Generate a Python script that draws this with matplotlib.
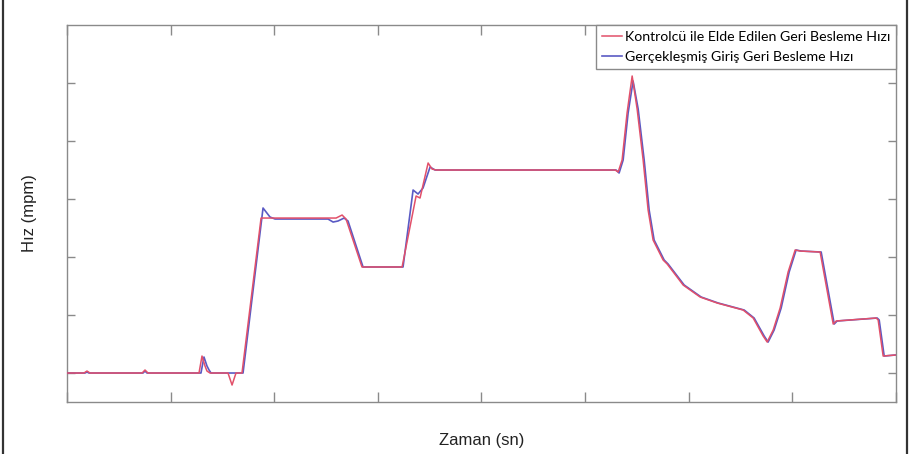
#!/usr/bin/env python3
"""Feed speed: controller output vs. realised input feedback."""

import matplotlib.pyplot as plt
from matplotlib.lines import Line2D

# ------------------------------------------------------------------
# Data (arbitrary units, labels hidden)
# ------------------------------------------------------------------
LABEL_CTRL = "Kontrolcü ile Elde Edilen Geri Besleme Hızı"
LABEL_REAL = "Gerçekleşmiş Giriş Geri Besleme Hızı"

t_ctrl = [0.000, 0.164, 0.193, 0.222, 0.725, 0.753, 0.782, 1.274, 1.303,
          1.332, 1.351, 1.380, 1.554, 1.593, 1.631, 1.689, 1.873, 2.539,
          2.597, 2.655, 2.693, 2.847, 3.234, 3.369, 3.407, 3.485, 3.523,
          3.562, 5.290, 5.319, 5.357, 5.405, 5.454, 5.502, 5.560, 5.608,
          5.656, 5.753, 5.792, 5.946, 6.110, 6.274, 6.525, 6.622, 6.718,
          6.757, 6.815, 6.882, 6.959, 7.027, 7.075, 7.268, 7.394, 7.423,
          7.809, 7.828, 7.876, 7.992]
v_ctrl = [0.000, 0.000, 0.034, 0.000, 0.000, 0.052, 0.000, 0.000, 0.293,
          0.121, 0.034, 0.000, 0.000, -0.207, 0.000, 0.000, 2.672, 2.672,
          2.672, 2.724, 2.655, 1.828, 1.828, 3.052, 3.017, 3.621, 3.517,
          3.500, 3.500, 3.466, 3.672, 4.483, 5.121, 4.552, 3.672, 2.810,
          2.293, 1.948, 1.879, 1.517, 1.310, 1.207, 1.086, 0.948, 0.638,
          0.534, 0.741, 1.121, 1.741, 2.121, 2.103, 2.086, 0.845, 0.897,
          0.948, 0.914, 0.293, 0.310]

t_real = [0.000, 0.174, 0.193, 0.212, 0.734, 0.753, 0.772, 1.293, 1.322,
          1.351, 1.371, 1.390, 1.699, 1.892, 1.959, 2.008, 2.519, 2.568,
          2.616, 2.674, 2.712, 2.857, 3.243, 3.340, 3.388, 3.436, 3.504,
          3.552, 5.299, 5.328, 5.367, 5.415, 5.463, 5.512, 5.570, 5.618,
          5.666, 5.763, 5.801, 5.956, 6.120, 6.284, 6.535, 6.631, 6.728,
          6.766, 6.824, 6.892, 6.969, 7.036, 7.085, 7.278, 7.404, 7.432,
          7.819, 7.838, 7.886, 7.992]
v_real = [0.000, 0.000, 0.017, 0.000, 0.000, 0.034, 0.000, 0.000, 0.276,
          0.121, 0.052, 0.000, 0.000, 2.845, 2.690, 2.655, 2.655, 2.603,
          2.621, 2.672, 2.621, 1.828, 1.828, 3.155, 3.086, 3.190, 3.552,
          3.500, 3.500, 3.448, 3.672, 4.483, 5.034, 4.552, 3.672, 2.810,
          2.293, 1.948, 1.879, 1.517, 1.310, 1.207, 1.086, 0.948, 0.638,
          0.534, 0.741, 1.121, 1.741, 2.121, 2.103, 2.086, 0.845, 0.897,
          0.948, 0.914, 0.293, 0.310]

X_TICKS = [0, 1, 2, 3, 4, 5, 6, 7, 8]
Y_TICKS = [0, 1, 2, 3, 4, 5]

# ------------------------------------------------------------------
RED = "#e2506a"
BLUE = "#5a5ac4"
AXIS = "#8a8a8a"
INK = "#222222"


def main() -> None:
    plt.rcParams.update({
        "font.family": ["Liberation Sans", "DejaVu Sans"],
        "axes.linewidth": 1.0,
    })

    fig = plt.figure(figsize=(9.1, 4.54), dpi=100, facecolor="white")
    ax = fig.add_axes([0.0736, 0.1145, 0.9110, 0.8304])

    ax.plot(t_real, v_real, color=BLUE, lw=1.2, label=LABEL_REAL, zorder=3)
    ax.plot(t_ctrl, v_ctrl, color=RED, lw=1.1, label=LABEL_CTRL, zorder=4)

    ax.set_xlim(0, 8)
    ax.set_ylim(-0.5, 6)
    ax.set_xticks(X_TICKS)
    ax.set_yticks(Y_TICKS)
    ax.set_xticklabels([])
    ax.set_yticklabels([])
    ax.tick_params(axis="both", direction="in", top=True, right=True,
                   colors=AXIS, width=1.0)
    ax.tick_params(axis="x", length=7)
    ax.tick_params(axis="y", length=5.5)
    for s in ax.spines.values():
        s.set_color(AXIS)

    ax.set_xlabel("Zaman (sn)", fontsize=12, color=INK, va="center")
    ax.xaxis.set_label_coords(0.5, -0.101)
    ax.set_ylabel("Hız (mpm)", fontsize=12, color=INK, va="center")
    ax.yaxis.set_label_coords(-0.045, 0.5)

    # legend: red first, flush with the top-right corner
    h, l = ax.get_legend_handles_labels()
    leg = ax.legend(h[::-1], l[::-1], loc="upper right", borderaxespad=0,
                    fancybox=False, framealpha=1, edgecolor=AXIS,
                    prop={"family": ["Lato", "DejaVu Sans"], "size": 10.2},
                    handlelength=1.45, handletextpad=0.2, borderpad=0.4,
                    labelspacing=0.6)
    leg.get_frame().set_linewidth(1.0)

    # outer frame of the picture
    for x in (0.003, 0.997):
        fig.add_artist(Line2D([x, x], [0, 1], transform=fig.transFigure,
                              color="#333333", lw=1.6))

    fig.savefig("out.png", dpi=100, facecolor="white")


if __name__ == "__main__":
    main()
